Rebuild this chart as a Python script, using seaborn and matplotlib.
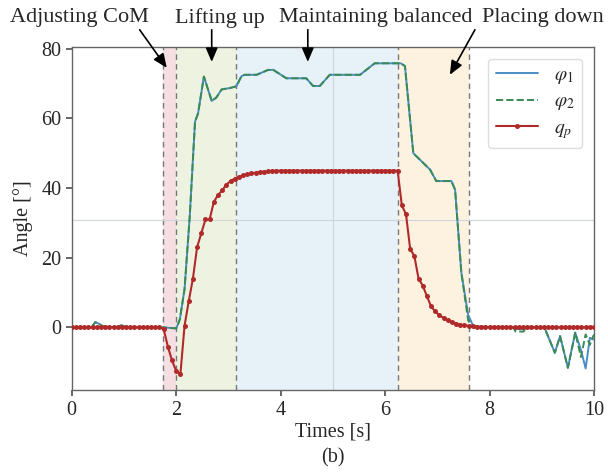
import numpy as np
import pandas as pd
import seaborn as sns
import matplotlib.pyplot as plt

# breakpoints of the two joint angles
phi_t = [0, 0.38, 0.45, 0.5, 0.6, 0.85, 0.95, 1.05, 1.75, 2.0, 2.07, 2.16, 2.26,
         2.36, 2.42, 2.53, 2.68, 2.77, 2.87, 3.03, 3.15, 3.25, 3.31, 3.54, 3.76,
         3.86, 4.11, 4.49, 4.62, 4.75, 4.94, 5.52, 5.80, 6.22, 6.30, 6.38, 6.54,
         6.73, 6.86, 6.98, 7.27, 7.34, 7.46, 7.59, 7.69, 8.45, 8.5, 8.65, 8.7,
         9.05, 9.25, 9.35, 9.5, 9.64, 9.75, 9.84, 9.92, 10.0]
phi1 = [0, 0, 1.5, 1.2, 0.3, 0, 0.6, 0, 0, -0.3, 2.3, 11, 32,
        59, 61.5, 72, 65, 66, 68.3, 68.7, 69.2, 72.1, 72.5, 72.5, 73.9,
        73.9, 71.5, 71.5, 69.3, 69.3, 72.5, 72.5, 75.8, 75.8, 75.8, 75, 50,
        47.2, 45.3, 42.0, 42.0, 39.5, 15.7, 3.6, 0.3, 0, -0.5, -0.5, 0,
        0, -7.3, -2.5, -11.6, -1.5, -6.5, -11.8, -3, -3.5]
phi2 = [0, 0, 1.5, 1.2, 0.3, 0, 0.6, 0, 0, -0.3, 2.3, 11, 32,
        59, 61.5, 72, 65, 66, 68.3, 68.7, 69.2, 72.1, 72.5, 72.5, 73.9,
        73.9, 71.5, 71.5, 69.3, 69.3, 72.5, 72.5, 75.8, 75.8, 75.8, 75, 50,
        47.2, 45.3, 42.0, 42.0, 39.5, 15.7, 2.0, 0, 0, -1.2, -1.2, 0,
        0, -7.3, -2.5, -11.6, -1.5, -8.5, -2.0, -5.0, -2.0]

# pitch angle q_p, sampled every 0.08 s
qp_dt = 0.08
qp = ([0.0] * 22
      + [-0.5, -5.5, -9.5, -12.5, -13.5, 0.5, 7.5, 14, 23, 27, 31, 31, 36, 38,
         39.3, 41, 42, 42.7, 43.2, 43.6, 43.9, 44.2, 44.4, 44.6, 44.7, 44.8, 44.9]
      + [45.0] * 30
      + [35, 32.5, 22.5, 20.5, 14, 12, 9, 6.0, 4.6, 3.5, 2.7, 2.0, 1.5, 1.1,
         0.8, 0.6, 0.4, 0.3, 0.2, 0.1, 0.1]
      + [0.0] * 26)
qp_t = np.arange(len(qp)) * qp_dt

# phase boundaries and shading
phase_edges = [1.75, 2.0, 3.15, 6.25, 7.6]
phase_colors = ["#f6dfe2", "#eef3e1", "#e7f2f8", "#fdf2e0"]
phase_names = ["Adjusting CoM", "Lifting up", "Maintaining balanced", "Placing down"]

sns.set_theme(style="ticks")
plt.rcParams["font.family"] = ["Liberation Serif", "DejaVu Serif"]
plt.rcParams["mathtext.fontset"] = "stix"

fig = plt.figure(figsize=(6.08, 4.74), dpi=100)
ax = fig.add_axes([0.118, 0.177, 0.859, 0.724])

for (a, b), c in zip(zip(phase_edges[:-1], phase_edges[1:]), phase_colors):
    ax.axvspan(a, b, color=c, lw=0, zorder=0)
for x in phase_edges:
    ax.axvline(x, color="#777777", ls=(0, (4, 3)), lw=1.0, zorder=1)

# faint cross lines visible in the original
ax.axvline(5, color="#cfd6da", lw=0.8, zorder=1)
ax.axhline(30.8, color="#cfd6da", lw=0.8, zorder=1)

phi_df = pd.DataFrame({"t": phi_t, "phi1": phi1, "phi2": phi2})
qp_df = pd.DataFrame({"t": qp_t, "qp": qp})

sns.lineplot(data=phi_df, x="t", y="phi1", ax=ax, color="#4a8cc4", lw=1.4,
             label=r"$\varphi_1$", zorder=3)
sns.lineplot(data=phi_df, x="t", y="phi2", ax=ax, color="#3a8a55", lw=1.4,
             linestyle="--", label=r"$\varphi_2$", zorder=4)
sns.lineplot(data=qp_df, x="t", y="qp", ax=ax, color="#b02a2a", lw=1.5,
             marker="o", markersize=3.6, markeredgewidth=0, label=r"$q_p$", zorder=5)

ax.set_xlim(0, 10)
ax.set_ylim(-18, 80.5)
ax.set_xticks([0, 2, 4, 6, 8, 10])
ax.set_yticks([0, 20, 40, 60, 80])
ax.tick_params(labelsize=14.5, length=4, color="#555555")
for s in ax.spines.values():
    s.set_color("#666666")
    s.set_linewidth(1.0)
ax.set_xlabel("Times [s]", fontsize=14.5, labelpad=2)
ax.set_ylabel("Angle [°]", fontsize=14.5, labelpad=6)

ax.legend(loc="upper right", fontsize=14, frameon=True, fancybox=True,
          borderaxespad=0.6, handlelength=2.2, labelspacing=0.35,
          framealpha=1, edgecolor="#dddddd")

# phase labels with arrows
label_x = [0.15, 2.84, 5.82, 9.02]
arrow_from = [1.30, 2.68, 4.52, 7.72]
arrow_to = [(1.82, 74.5), (2.68, 76.2), (4.52, 76.2), (7.24, 72.5)]
for name, lx, ax0, tip in zip(phase_names, label_x, arrow_from, arrow_to):
    ax.text(lx, 1.085, name, transform=ax.get_xaxis_transform(), ha="center",
            va="center", fontsize=16, clip_on=False)
    ax.annotate("", xy=tip, xycoords="data", xytext=(ax0, 1.05),
                textcoords=ax.get_xaxis_transform(), annotation_clip=False,
                arrowprops=dict(arrowstyle="-|>,head_width=0.3,head_length=0.7",
                                color="black", lw=1.2, shrinkA=0, shrinkB=0))

fig.text(0.548, 0.034, "(b)", ha="center", va="center", fontsize=14.5)

fig.savefig("out.png", dpi=100)
